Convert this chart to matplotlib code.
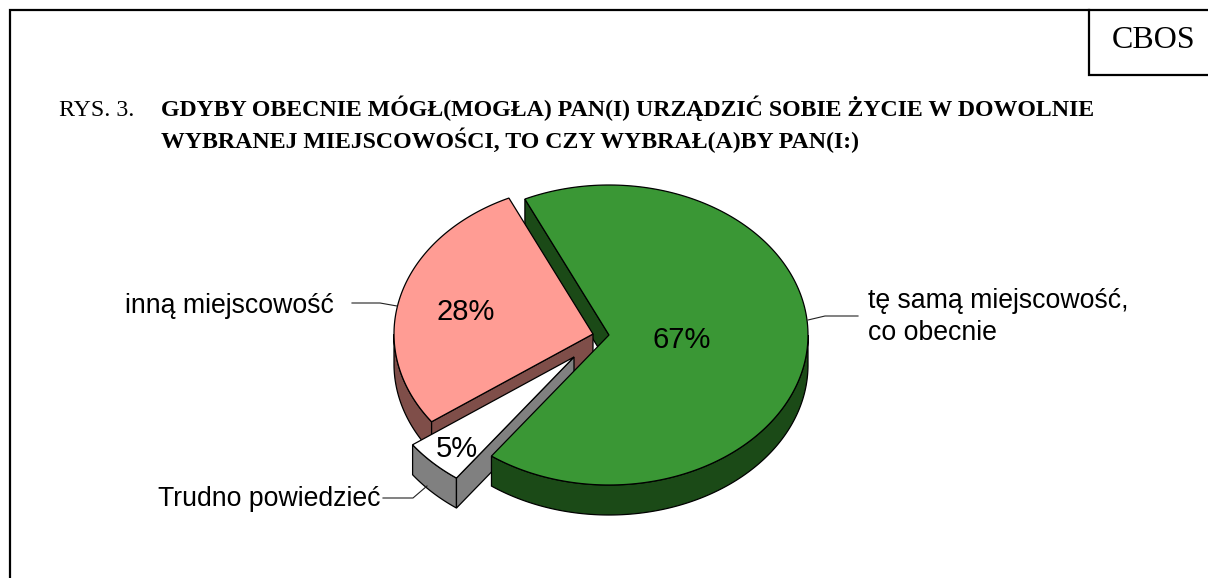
#!/usr/bin/env python3

import numpy as np
import matplotlib
matplotlib.use("Agg")
import matplotlib.pyplot as plt

# data
categories = ["tę samą miejscowość,\nco obecnie", "Trudno powiedzieć", "inną miejscowość"]
values = [67, 5, 28]
pct_labels = ["67%", "5%", "28%"]

title_prefix = "RYS. 3."
title_lines = ["GDYBY OBECNIE MÓGŁ(MOGŁA) PAN(I) URZĄDZIĆ SOBIE ŻYCIE W DOWOLNIE",
               "WYBRANEJ MIEJSCOWOŚCI, TO CZY WYBRAŁ(A)BY PAN(I:)"]

# pie layout, pixels
CX, CY = 609.0, 335.0
RX, RY = 199.0, 150.0
DEPTH = 30.0
START = 115.0
offsets = [(0, 0), (-35, 22), (-16, -1)]
top_colors = ["#3A9735", "#FFFFFF", "#FF9C94"]
wall_colors = ["#1B4A17", "#808080", "#7F4E49"]
LW = 0.9


def arc(cx, cy, t0, t1, n=200):
    t = np.radians(np.linspace(t0, t1, n))
    return np.column_stack([cx + RX * np.cos(t), cy - RY * np.sin(t)])


def draw_radial_wall(ax, i, t, cx, cy):
    edge = arc(cx, cy, t, t, 1)[0]
    pts = [(cx, cy), edge, edge + (0, DEPTH), (cx, cy + DEPTH)]
    ax.fill(*zip(*pts), facecolor=wall_colors[i], edgecolor="black", lw=LW)


def draw_rim(ax, i, t0, t1, cx, cy):
    # t0 > t1, walk clockwise and keep the part facing the viewer
    t = np.linspace(t0, t1, 800)
    low = t[np.sin(np.radians(t)) < 0]
    rim = arc(cx, cy, low[0], low[-1])
    pts = np.vstack([rim, rim[::-1] + (0, DEPTH)])
    ax.fill(pts[:, 0], pts[:, 1], facecolor=wall_colors[i], edgecolor="black", lw=LW)


def draw_top(ax, i, t0, t1, cx, cy):
    pts = np.vstack([[(cx, cy)], arc(cx, cy, t0, t1)])
    ax.fill(pts[:, 0], pts[:, 1], facecolor=top_colors[i], edgecolor="black", lw=LW)


fig = plt.figure(figsize=(12.08, 5.78), dpi=100)
ax = fig.add_axes([0, 0, 1, 1])
ax.set_xlim(0, 1208)
ax.set_ylim(578, 0)
ax.axis("off")

# slice angles from the values, clockwise from START
sweeps = np.array(values) / sum(values) * 360.0
ends = START - np.cumsum(sweeps)
starts = ends + sweeps

# green first-edge wall sits behind the others, green top and rim in front of them
draw_radial_wall(ax, 0, starts[0], CX, CY)

for i in (2, 1):
    cx, cy = CX + offsets[i][0], CY + offsets[i][1]
    # only the radial edge lower on the page shows its wall
    y_start = arc(cx, cy, starts[i], starts[i], 1)[0][1]
    y_end = arc(cx, cy, ends[i], ends[i], 1)[0][1]
    draw_rim(ax, i, starts[i], ends[i], cx, cy)
    draw_radial_wall(ax, i, starts[i] if y_start > y_end else ends[i], cx, cy)
    draw_top(ax, i, starts[i], ends[i], cx, cy)

draw_rim(ax, 0, starts[0], ends[0], CX, CY)
draw_top(ax, 0, starts[0], ends[0], CX, CY)

# leader lines
ax.plot([808, 825, 858], [320, 316, 316], color="#222222", lw=0.8)
ax.plot([383, 413, 427], [498, 498, 486], color="#222222", lw=0.8)
ax.plot([352, 380, 397], [303, 303, 306], color="#222222", lw=0.8)

# labels
sans = "Liberation Sans"
serif = "Liberation Serif"
ax.text(682, 340, pct_labels[0], family=sans, fontsize=21, ha="center", va="center")
ax.text(457, 449, pct_labels[1], family=sans, fontsize=21, ha="center", va="center")
ax.text(466, 312, pct_labels[2], family=sans, fontsize=21, ha="center", va="center")
ax.text(868, 317, categories[0], family=sans, fontsize=19.2, ha="left", va="center", linespacing=1.27)
ax.text(381, 499, categories[1], family=sans, fontsize=19.2, ha="right", va="center")
ax.text(334, 306, categories[2], family=sans, fontsize=19.2, ha="right", va="center")

# title
ax.text(59, 116, title_prefix, family=serif, fontsize=17.2, ha="left", va="baseline")
ax.text(161, 116, title_lines[0], family=serif, fontsize=17.2, weight="bold", ha="left", va="baseline")
ax.text(161, 148, title_lines[1], family=serif, fontsize=17.2, weight="bold", ha="left", va="baseline")

# frame and CBOS box
ax.plot([10, 10, 1208], [578, 10, 10], color="black", lw=1.6, solid_joinstyle="miter")
ax.plot([1089, 1089, 1208], [10, 75, 75], color="black", lw=1.6, solid_joinstyle="miter")
ax.text(1154, 41, "CBOS", family=serif, fontsize=23, ha="center", va="center")

fig.savefig("out.png", dpi=100)
